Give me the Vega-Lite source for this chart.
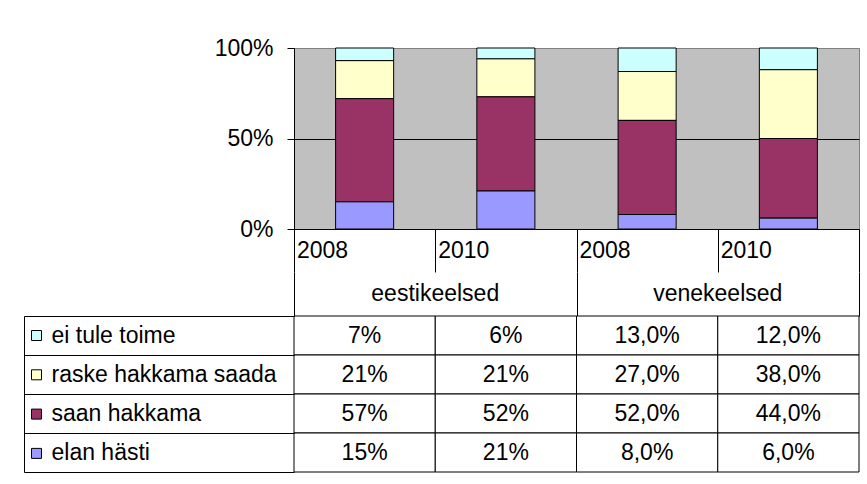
{
  "$schema": "https://vega.github.io/schema/vega-lite/v6.json",
  "padding": {"left": 23, "top": 36, "right": 0, "bottom": 0},
  "background": "white",
  "bounds": "flush",
  "spacing": 0,
  "config": {
    "font": "Liberation Sans",
    "view": {"stroke": null},
    "axis": {"labelFont": "Liberation Sans", "labelColor": "black"},
    "legend": {"labelFont": "Liberation Sans"}
  },
  "datasets": {
    "vals": [
      {"group": "eestikeelsed", "year": "2008", "cat": "eestikeelsed 2008", "series": "ei tule toime", "k": 4, "value": 0.07, "label": "7%"},
      {"group": "eestikeelsed", "year": "2008", "cat": "eestikeelsed 2008", "series": "raske hakkama saada", "k": 3, "value": 0.21, "label": "21%"},
      {"group": "eestikeelsed", "year": "2008", "cat": "eestikeelsed 2008", "series": "saan hakkama", "k": 2, "value": 0.57, "label": "57%"},
      {"group": "eestikeelsed", "year": "2008", "cat": "eestikeelsed 2008", "series": "elan hästi", "k": 1, "value": 0.15, "label": "15%"},
      {"group": "eestikeelsed", "year": "2010", "cat": "eestikeelsed 2010", "series": "ei tule toime", "k": 4, "value": 0.06, "label": "6%"},
      {"group": "eestikeelsed", "year": "2010", "cat": "eestikeelsed 2010", "series": "raske hakkama saada", "k": 3, "value": 0.21, "label": "21%"},
      {"group": "eestikeelsed", "year": "2010", "cat": "eestikeelsed 2010", "series": "saan hakkama", "k": 2, "value": 0.52, "label": "52%"},
      {"group": "eestikeelsed", "year": "2010", "cat": "eestikeelsed 2010", "series": "elan hästi", "k": 1, "value": 0.21, "label": "21%"},
      {"group": "venekeelsed", "year": "2008", "cat": "venekeelsed 2008", "series": "ei tule toime", "k": 4, "value": 0.13, "label": "13,0%"},
      {"group": "venekeelsed", "year": "2008", "cat": "venekeelsed 2008", "series": "raske hakkama saada", "k": 3, "value": 0.27, "label": "27,0%"},
      {"group": "venekeelsed", "year": "2008", "cat": "venekeelsed 2008", "series": "saan hakkama", "k": 2, "value": 0.52, "label": "52,0%"},
      {"group": "venekeelsed", "year": "2008", "cat": "venekeelsed 2008", "series": "elan hästi", "k": 1, "value": 0.08, "label": "8,0%"},
      {"group": "venekeelsed", "year": "2010", "cat": "venekeelsed 2010", "series": "ei tule toime", "k": 4, "value": 0.12, "label": "12,0%"},
      {"group": "venekeelsed", "year": "2010", "cat": "venekeelsed 2010", "series": "raske hakkama saada", "k": 3, "value": 0.38, "label": "38,0%"},
      {"group": "venekeelsed", "year": "2010", "cat": "venekeelsed 2010", "series": "saan hakkama", "k": 2, "value": 0.44, "label": "44,0%"},
      {"group": "venekeelsed", "year": "2010", "cat": "venekeelsed 2010", "series": "elan hästi", "k": 1, "value": 0.06, "label": "6,0%"}
    ],
    "years": [
      {"cat": "eestikeelsed 2008", "year": "2008"},
      {"cat": "eestikeelsed 2010", "year": "2010"},
      {"cat": "venekeelsed 2008", "year": "2008"},
      {"cat": "venekeelsed 2010", "year": "2010"}
    ],
    "groups": [
      {"group": "eestikeelsed"},
      {"group": "venekeelsed"}
    ]
  },
  "vconcat": [
    {
      "width": 565,
      "height": 181,
      "view": {"fill": "#c0c0c0", "stroke": "#808080"},
      "data": {"name": "vals"},
      "mark": {"type": "bar", "stroke": "black", "strokeWidth": 1},
      "encoding": {
        "x": {
          "field": "cat", "type": "nominal",
          "sort": ["eestikeelsed 2008", "eestikeelsed 2010", "venekeelsed 2008", "venekeelsed 2010"],
          "scale": {"paddingInner": 0.589, "paddingOuter": 0.2945},
          "axis": {"title": null, "labels": false, "ticks": false, "domain": true, "domainColor": "black", "grid": false}
        },
        "y": {
          "field": "value", "type": "quantitative", "stack": "zero",
          "scale": {"domain": [0, 1], "nice": false, "clamp": true},
          "axis": {
            "title": null, "values": [0, 0.5, 1], "format": ".0%",
            "labelFontSize": 23, "labelPadding": 14, "tickSize": 7, "tickColor": "black",
            "domainColor": "black", "grid": true, "gridOpacity": 1,
            "gridColor": {"condition": {"test": "datum.value == 0.5", "value": "black"}, "value": "#808080"}
          }
        },
        "color": {
          "field": "series", "type": "nominal",
          "scale": {
            "domain": ["ei tule toime", "raske hakkama saada", "saan hakkama", "elan hästi"],
            "range": ["#CCFFFF", "#FFFFCC", "#993366", "#9999FF"]
          },
          "legend": {
            "orient": "none", "legendX": -269, "legendY": 276, "title": null,
            "symbolType": "square", "symbolSize": 100, "symbolStrokeColor": "black", "symbolStrokeWidth": 1,
            "symbolOpacity": 1,
            "labelFontSize": 23, "labelColor": "black", "labelOffset": 3.5, "rowPadding": 15.3,
            "padding": 0, "labelLimit": 400
          }
        },
        "order": {"field": "k", "type": "quantitative"}
      }
    },
    {
      "width": 565,
      "height": 43,
      "data": {"name": "years"},
      "mark": {"type": "text", "align": "left", "dx": 3, "fontSize": 23, "color": "black"},
      "encoding": {
        "x": {
          "field": "cat", "type": "nominal", "bandPosition": 0,
          "sort": ["eestikeelsed 2008", "eestikeelsed 2010", "venekeelsed 2008", "venekeelsed 2010"],
          "scale": {"paddingInner": 0, "paddingOuter": 0},
          "axis": {"title": null, "labels": false, "ticks": false, "domain": false, "grid": true, "gridColor": "black", "gridOpacity": 1, "tickBand": "extent"}
        },
        "text": {"field": "year", "type": "nominal"}
      }
    },
    {
      "width": 565,
      "height": 44,
      "data": {"name": "groups"},
      "mark": {"type": "text", "fontSize": 23, "color": "black"},
      "encoding": {
        "x": {
          "field": "group", "type": "nominal",
          "sort": ["eestikeelsed", "venekeelsed"],
          "scale": {"paddingInner": 0, "paddingOuter": 0},
          "axis": {"title": null, "labels": false, "ticks": false, "domain": false, "grid": true, "gridColor": "black", "gridOpacity": 1, "tickBand": "extent"}
        },
        "text": {"field": "group", "type": "nominal"}
      }
    },
    {
      "width": 565,
      "height": 156,
      "data": {"name": "vals"},
      "encoding": {
        "x": {
          "field": "cat", "type": "nominal",
          "sort": ["eestikeelsed 2008", "eestikeelsed 2010", "venekeelsed 2008", "venekeelsed 2010"],
          "scale": {"paddingInner": 0, "paddingOuter": 0},
          "axis": null
        }
      },
      "layer": [
        {
          "mark": {"type": "rect", "fill": "white", "stroke": "black", "strokeWidth": 1},
          "encoding": {
            "y": {
              "field": "series", "type": "nominal",
              "sort": ["ei tule toime", "raske hakkama saada", "saan hakkama", "elan hästi"],
              "scale": {"paddingInner": 0, "paddingOuter": 0},
              "axis": {"title": null, "labels": false, "domain": false, "ticks": true, "tickBand": "extent", "tickSize": 270, "tickColor": "black", "grid": false}
            }
          }
        },
        {
          "mark": {"type": "text", "fontSize": 23, "color": "black"},
          "encoding": {
            "y": {
              "field": "series", "type": "nominal",
              "sort": ["ei tule toime", "raske hakkama saada", "saan hakkama", "elan hästi"],
              "scale": {"paddingInner": 0, "paddingOuter": 0},
              "axis": {"title": null, "orient": "left", "offset": 270, "labels": false, "ticks": false, "domain": true, "domainColor": "black", "grid": false}
            },
            "text": {"field": "label", "type": "nominal"}
          }
        }
      ],
      "resolve": {"axis": {"y": "independent"}}
    }
  ]
}
